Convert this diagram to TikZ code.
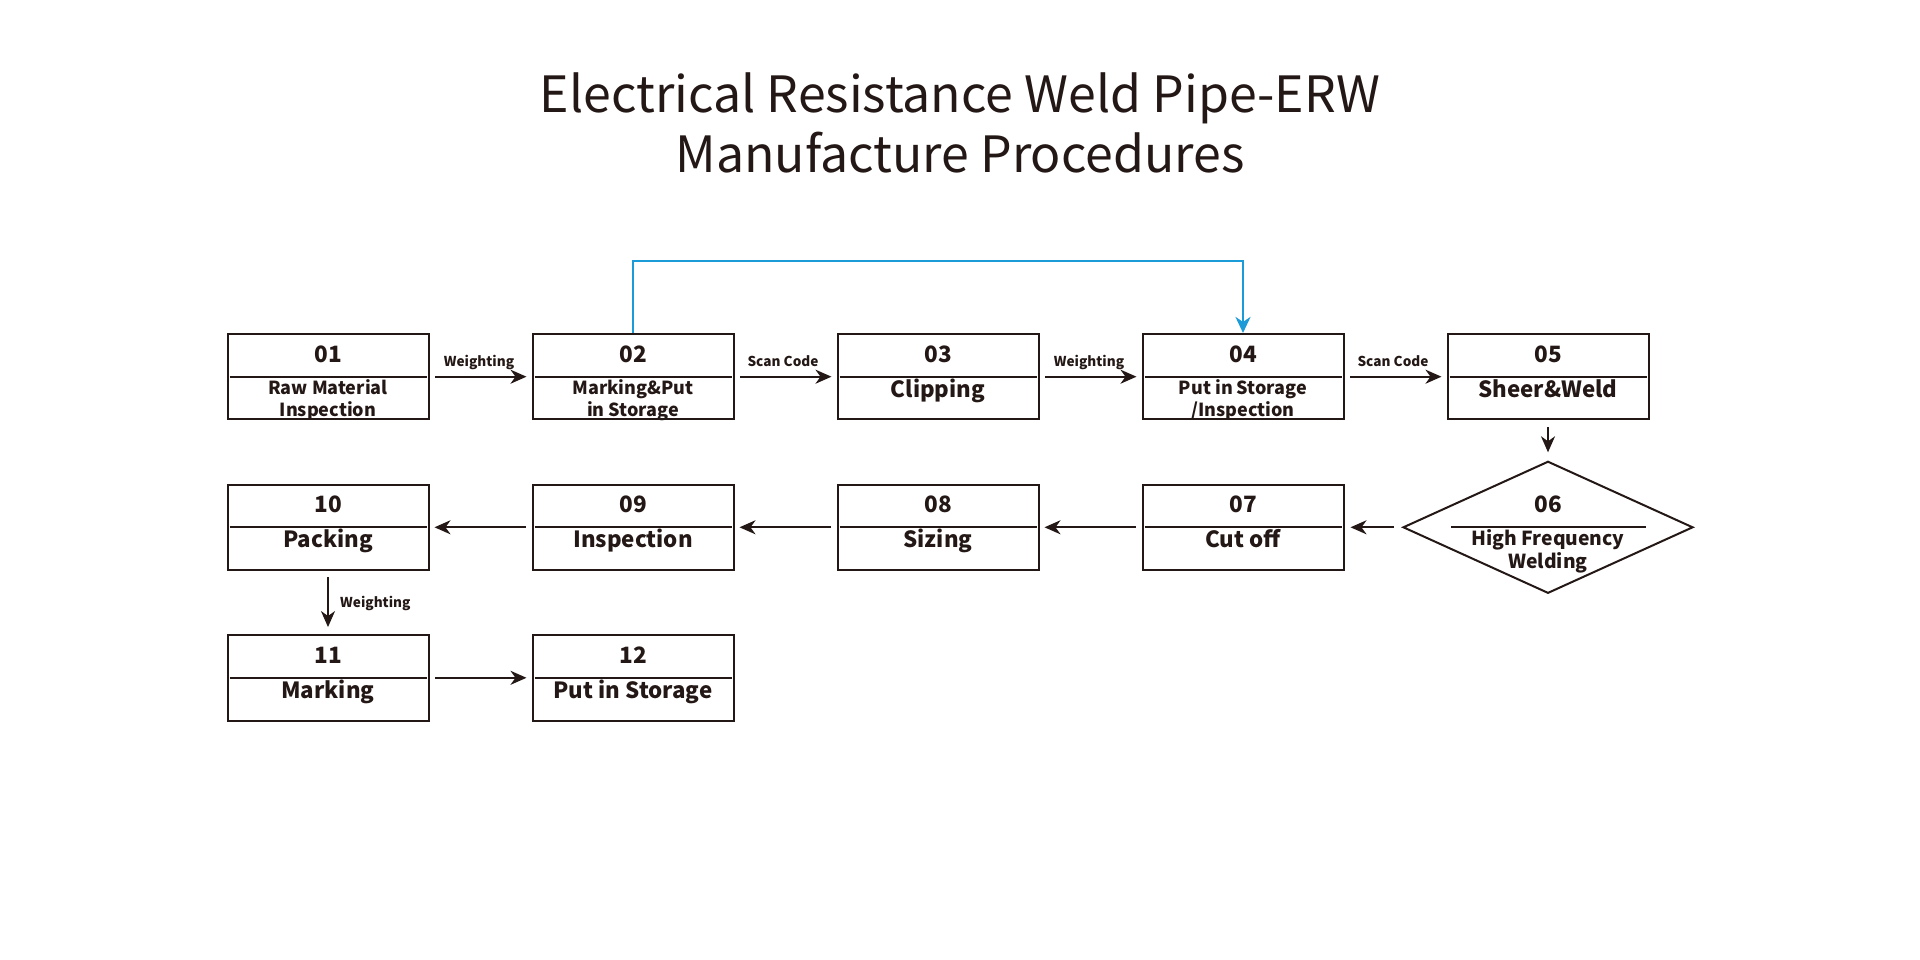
\documentclass[tikz,border=0pt]{standalone}
\usepackage{fontspec}
\setmainfont{Noto Sans CJK SC}
\usetikzlibrary{arrows.meta,shapes.geometric}
\definecolor{ink}{RGB}{35,24,21}
\definecolor{flow}{RGB}{27,155,215}
\tikzset{
  box/.style={draw=ink, line width=2pt, minimum width=201pt, minimum height=85.5pt, inner sep=0pt},
  dia/.style={draw=ink, line width=2pt, diamond, minimum width=290pt, minimum height=132pt, inner sep=0pt},
  divline/.style={draw=ink, line width=2pt},
  num/.style={font=\bfseries\fontsize{22.5}{22.5}\selectfont, text=ink, anchor=base, inner sep=0pt},
  lab/.style={font=\bfseries\fontsize{22.3}{22.3}\selectfont, text=ink, anchor=base, inner sep=0pt},
  labtwo/.style={font=\bfseries\fontsize{18}{22.7}\selectfont, text=ink, anchor=base, align=center, inner sep=0pt},
  labdia/.style={font=\bfseries\fontsize{19.3}{23}\selectfont, text=ink, anchor=base, align=center, inner sep=0pt},
  tag/.style={font=\bfseries\fontsize{13.6}{14}\selectfont, text=ink, anchor=base, inner sep=0pt},
  title/.style={font=\fontsize{50}{56}\selectfont, text=ink, anchor=base, inner sep=0pt},
  arr/.style={draw=ink, line width=2pt, -{Stealth[length=16pt,width=14pt,inset=5pt]}},
  bluearr/.style={draw=flow, line width=2.5pt, -{Stealth[length=16pt,width=15pt,inset=5pt]}},
}
\begin{document}
\begin{tikzpicture}[x=1pt,y=-1pt]
\useasboundingbox (0,0) rectangle (1920,960);
% title
\node[title] (t1) at (960,112.7) {Electrical Resistance Weld Pipe-ERW};
\node[title] (t2) at (960,172.5) {Manufacture Procedures};
% boxes
\node[box] (b01) at (328,376.7) {};
\node[box] (b02) at (633,376.7) {};
\node[box] (b03) at (938,376.7) {};
\node[box] (b04) at (1243,376.7) {};
\node[box] (b05) at (1548,376.7) {};
\node[dia] (b06) at (1548,527.3) {};
\node[box] (b07) at (1243,527.3) {};
\node[box] (b08) at (938,527.3) {};
\node[box] (b09) at (633,527.3) {};
\node[box] (b10) at (328,527.3) {};
\node[box] (b11) at (328,677.8) {};
\node[box] (b12) at (633,677.8) {};
% dividers
\foreach \b in {b01,b02,b03,b04,b05,b07,b08,b09,b10,b11,b12}
  \draw[divline] ([xshift=3pt]\b.west) -- ([xshift=-3pt]\b.east);
\draw[divline] (1451,527.3) -- (1646,527.3);
% numbers
\node[num] (n01) at (328,362.3) {01};
\node[num] (n02) at (633,362.3) {02};
\node[num] (n03) at (938,362.3) {03};
\node[num] (n04) at (1243,362.3) {04};
\node[num] (n05) at (1548,362.3) {05};
\node[num] (n06) at (1548,512.3) {06};
\node[num] (n07) at (1243,512.9) {07};
\node[num] (n08) at (938,512.9) {08};
\node[num] (n09) at (633,512.9) {09};
\node[num] (n10) at (328,512.9) {10};
\node[num] (n11) at (328,663.4) {11};
\node[num] (n12) at (633,663.4) {12};
% labels (two-line labels: base = last line)
\node[labtwo] (l01) at (328,416.7) {Raw Material\\Inspection};
\node[labtwo] (l02) at (633,416.7) {Marking\&Put\\in Storage};
\node[lab] (l03) at (938,397) {Clipping};
\node[labtwo] (l04) at (1243,416.7) {Put in Storage\\/Inspection};
\node[lab] (l05) at (1548,397) {Sheer\&Weld};
\node[labdia] (l06) at (1548,568.5) {High Frequency\\Welding};
\node[lab] (l07) at (1243,547.6) {Cut off};
\node[lab] (l08) at (938,547.6) {Sizing};
\node[lab] (l09) at (633,547.6) {Inspection};
\node[lab] (l10) at (328,547.6) {Packing};
\node[lab] (l11) at (328,698.1) {Marking};
\node[lab] (l12) at (633,698.1) {Put in Storage};
% arrows
\draw[arr] ([xshift=5.5pt]b01.east) -- ([xshift=-5pt]b02.west);
\draw[arr] ([xshift=5.5pt]b02.east) -- ([xshift=-5pt]b03.west);
\draw[arr] ([xshift=5.5pt]b03.east) -- ([xshift=-5pt]b04.west);
\draw[arr] ([xshift=5.5pt]b04.east) -- ([xshift=-5pt]b05.west);
\draw[arr] ([yshift=-7pt]b05.south) -- ([yshift=8pt]b06.north);
\draw[arr] ([xshift=-8pt]b06.west) -- ([xshift=6pt]b07.east);
\draw[arr] ([xshift=-5.5pt]b07.west) -- ([xshift=5pt]b08.east);
\draw[arr] ([xshift=-5.5pt]b08.west) -- ([xshift=5pt]b09.east);
\draw[arr] ([xshift=-5.5pt]b09.west) -- ([xshift=5pt]b10.east);
\draw[arr] ([yshift=-6pt]b10.south) -- ([yshift=7pt]b11.north);
\draw[arr] ([xshift=5.5pt]b11.east) -- ([xshift=-5pt]b12.west);
\draw[bluearr] (b02.north) -- ++(0,-72) -| (b04.north);
% arrow tags
\node[tag] (g1) at (479,366) {Weighting};
\node[tag] (g2) at (783,366) {Scan Code};
\node[tag] (g3) at (1089,366) {Weighting};
\node[tag] (g4) at (1393,366) {Scan Code};
\node[tag, anchor=base west] (g5) at (340,607) {Weighting};
\end{tikzpicture}
\end{document}
